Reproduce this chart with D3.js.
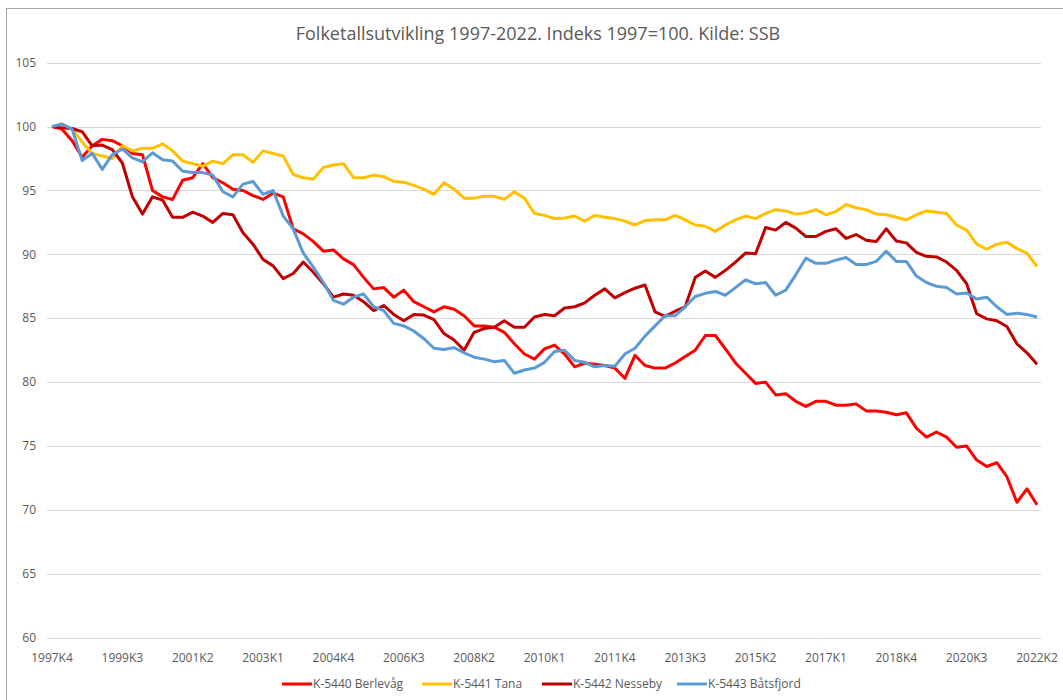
<!DOCTYPE html>
<html>
<head>
<meta charset="utf-8">
<script src="https://d3js.org/d3.v7.min.js"></script>
<style>
  body { margin: 0; background: #fff; }
  svg text { font-family: "Open Sans", "Noto Sans", sans-serif; fill: #595959; }
</style>
</head>
<body>
<svg id="chart" width="1063" height="700"></svg>
<script>
// quarters 1997K4 .. 2022K2 (99 points)
var quarters = [];
for (var y = 1997, q = 4; y < 2022 || q <= 2; ) {
  quarters.push(y + "K" + q);
  q++; if (q > 4) { q = 1; y++; }
}
var tickLabels = ["1997K4","1999K3","2001K2","2003K1","2004K4","2006K3","2008K2",
                  "2010K1","2011K4","2013K3","2015K2","2017K1","2018K4","2020K3","2022K2"];
var yTicks = [60, 65, 70, 75, 80, 85, 90, 95, 100, 105];

var seriesNames = ["K-5440 Berlevåg", "K-5441 Tana", "K-5442 Nesseby", "K-5443 Båtsfjord"];
var seriesColors = ["#FF0000", "#FFC000", "#C00000", "#5B9BD5"];

var berlevag = [100,99.8,98.9,97.6,98.5,99.0,98.9,98.5,97.9,97.8,95.0,94.5,94.3,95.8,96.0,97.1,96.0,95.6,95.1,95.0,
  94.6,94.3,94.8,94.5,92.0,91.6,91.0,90.25,90.35,89.65,89.2,88.2,87.3,87.4,86.65,87.2,86.3,85.9,85.5,85.9,
  85.7,85.2,84.4,84.4,84.3,83.9,83.0,82.2,81.8,82.6,82.9,82.2,81.2,81.5,81.4,81.3,81.1,80.3,82.1,81.3,
  81.1,81.1,81.5,82.0,82.5,83.65,83.65,82.6,81.5,80.7,79.9,80.0,79.0,79.1,78.5,78.1,78.5,78.5,78.2,78.2,
  78.3,77.75,77.75,77.65,77.45,77.6,76.4,75.7,76.1,75.7,74.9,75.0,73.9,73.4,73.7,72.6,70.6,71.65,70.4];

var tana = [100,100.2,99.8,98.8,97.9,97.7,97.5,98.5,98.1,98.3,98.3,98.65,98.1,97.3,97.1,96.9,97.3,97.1,97.8,97.8,
  97.2,98.1,97.9,97.7,96.25,96.0,95.9,96.8,97.0,97.1,96.0,96.0,96.2,96.1,95.7,95.65,95.4,95.1,94.7,95.6,
  95.1,94.4,94.4,94.55,94.55,94.3,94.9,94.4,93.2,93.05,92.8,92.85,93.0,92.6,93.05,92.9,92.8,92.6,92.3,92.65,
  92.7,92.7,93.05,92.7,92.3,92.2,91.8,92.3,92.7,93.0,92.8,93.2,93.5,93.4,93.15,93.25,93.5,93.1,93.35,93.9,
  93.65,93.5,93.15,93.1,92.9,92.7,93.1,93.4,93.3,93.2,92.3,91.9,90.8,90.4,90.8,90.95,90.45,90.1,89.05];

var nesseby = [100,99.9,99.85,99.6,98.5,98.55,98.2,97.15,94.5,93.15,94.5,94.25,92.9,92.9,93.3,93.0,92.5,93.2,93.1,91.7,
  90.8,89.6,89.1,88.1,88.5,89.4,88.6,87.7,86.65,86.9,86.8,86.3,85.6,86.0,85.3,84.8,85.3,85.25,84.9,83.8,
  83.3,82.5,83.9,84.2,84.3,84.8,84.3,84.3,85.1,85.3,85.2,85.8,85.9,86.2,86.8,87.3,86.6,87.0,87.35,87.6,
  85.5,85.15,85.55,85.9,88.2,88.7,88.2,88.75,89.4,90.1,90.05,92.1,91.9,92.5,92.05,91.4,91.4,91.8,92.0,91.25,
  91.55,91.1,91.0,92.0,91.05,90.9,90.15,89.85,89.8,89.4,88.75,87.7,85.35,84.95,84.8,84.35,83.0,82.3,81.4];

var batsfjord = [100,100.2,99.8,97.35,97.9,96.65,97.8,98.25,97.55,97.25,97.95,97.4,97.3,96.5,96.4,96.4,96.2,94.9,94.5,95.5,
  95.7,94.7,95.0,93.0,92.0,90.1,89.0,87.8,86.4,86.1,86.65,86.9,85.9,85.6,84.6,84.4,84.0,83.4,82.65,82.55,
  82.7,82.3,81.95,81.8,81.6,81.7,80.7,80.95,81.1,81.55,82.4,82.5,81.7,81.55,81.2,81.3,81.25,82.2,82.65,83.6,
  84.4,85.2,85.2,85.9,86.7,86.95,87.1,86.8,87.4,88.0,87.7,87.8,86.8,87.2,88.4,89.7,89.3,89.3,89.55,89.75,
  89.2,89.2,89.45,90.25,89.45,89.45,88.3,87.8,87.5,87.4,86.9,86.97,86.5,86.65,85.9,85.3,85.4,85.3,85.1];

var allSeries = [berlevag, tana, nesseby, batsfjord];

var svg = d3.select("#chart"),
    width = +svg.attr("width"),
    height = +svg.attr("height");

// outer frame (excel style chart border)
svg.append("rect")
    .attr("x", 6.5).attr("y", 8.5)
    .attr("width", width + 20).attr("height", height + 20)
    .attr("fill", "none")
    .attr("stroke", "#a6a6a6")
    .attr("stroke-width", 1);

var x = d3.scalePoint().domain(quarters).range([52, 1037]);
var yScale = d3.scaleLinear().domain([60, 105]).range([637.7, 62.7]);

// title
svg.append("text")
    .attr("x", 538).attr("y", 40)
    .attr("text-anchor", "middle")
    .style("font-size", "18px")
    .text("Folketallsutvikling 1997-2022. Indeks 1997=100. Kilde: SSB");

// gridlines + y labels
var grid = svg.append("g");
grid.selectAll("line")
    .data(yTicks)
    .enter().append("line")
      .attr("x1", 47).attr("x2", 1041)
      .attr("y1", function(d) { return Math.round(yScale(d)) + 0.5; })
      .attr("y2", function(d) { return Math.round(yScale(d)) + 0.5; })
      .attr("stroke", "#d9d9d9")
      .attr("stroke-width", 1);
grid.selectAll("text")
    .data(yTicks)
    .enter().append("text")
      .attr("x", 36)
      .attr("y", function(d) { return yScale(d); })
      .attr("dy", "0.35em")
      .attr("text-anchor", "end")
      .style("font-size", "12px")
      .text(function(d) { return d; });

// x labels, one every 7 quarters
svg.append("g").selectAll("text")
    .data(tickLabels)
    .enter().append("text")
      .attr("x", function(d) { return x(d); })
      .attr("y", 662)
      .attr("text-anchor", "middle")
      .style("font-size", "12px")
      .text(function(d) { return d; });

// the lines
var line = d3.line()
    .x(function(d, i) { return x(quarters[i]); })
    .y(function(d) { return yScale(d); });

svg.append("g")
    .attr("fill", "none")
    .attr("stroke-width", 3)
    .attr("stroke-linejoin", "round")
  .selectAll("path")
  .data(allSeries)
  .enter().append("path")
    .attr("stroke", function(d, i) { return seriesColors[i]; })
    .attr("d", line);

// legend (item start positions as in the excel original)
var legendX = [282, 422, 542, 677];
var legend = svg.append("g").selectAll("g")
    .data(seriesNames)
    .enter().append("g")
      .attr("transform", function(d, i) { return "translate(" + legendX[i] + ",684)"; });
legend.append("line")
    .attr("x1", 0).attr("x2", 30)
    .attr("stroke", function(d, i) { return seriesColors[i]; })
    .attr("stroke-width", 3);
legend.append("text")
    .attr("x", 31).attr("dy", "0.35em")
    .style("font-size", "12px")
    .text(function(d) { return d; });
</script>
</body>
</html>
